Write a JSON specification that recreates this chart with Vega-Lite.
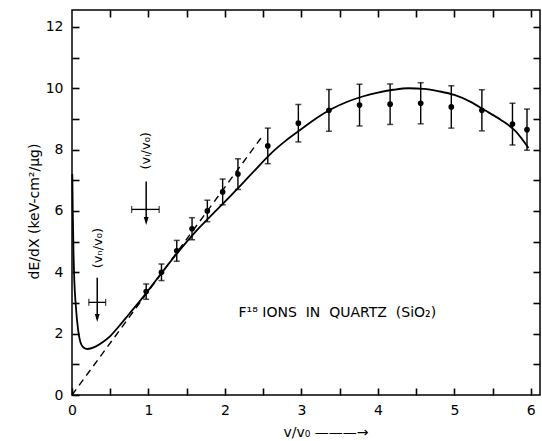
{
  "$schema": "https://vega.github.io/schema/vega-lite/v6.json",
  "width": 468,
  "height": 385,
  "autosize": {"type": "none"},
  "padding": {"left": 72, "top": 10, "right": 2, "bottom": 46},
  "background": "white",
  "config": {
    "view": {"stroke": "black", "strokeWidth": 1.5},
    "font": "DejaVu Sans",
    "axis": {
      "grid": false,
      "domain": false,
      "ticks": true,
      "tickColor": "black",
      "tickOpacity": 1,
      "tickWidth": 1.6,
      "tickSize": 7,
      "offset": -7,
      "zindex": 2,
      "labelFlush": false,
      "labelOverlap": false,
      "labelColor": "black",
      "titleColor": "black",
      "labelFont": "DejaVu Sans",
      "titleFont": "DejaVu Sans",
      "labelFontSize": 14,
      "titleFontSize": 14,
      "titleFontWeight": "normal"
    }
  },
  "datasets": {
    "curve": [
      {"x": 0.004, "y": 7.2}, {"x": 0.01, "y": 6.0}, {"x": 0.02, "y": 4.6}, {"x": 0.03, "y": 3.75},
      {"x": 0.05, "y": 2.9}, {"x": 0.08, "y": 2.12}, {"x": 0.11, "y": 1.72}, {"x": 0.15, "y": 1.55},
      {"x": 0.2, "y": 1.5}, {"x": 0.3, "y": 1.57}, {"x": 0.4, "y": 1.72}, {"x": 0.5, "y": 1.92},
      {"x": 0.6, "y": 2.2}, {"x": 0.75, "y": 2.65}, {"x": 0.9, "y": 3.1}, {"x": 1.0, "y": 3.42},
      {"x": 1.2, "y": 4.07}, {"x": 1.4, "y": 4.7}, {"x": 1.6, "y": 5.28}, {"x": 1.8, "y": 5.8},
      {"x": 2.0, "y": 6.3}, {"x": 2.2, "y": 6.82}, {"x": 2.4, "y": 7.35}, {"x": 2.6, "y": 7.87},
      {"x": 2.8, "y": 8.3}, {"x": 3.0, "y": 8.67}, {"x": 3.2, "y": 9.03}, {"x": 3.4, "y": 9.33},
      {"x": 3.6, "y": 9.56}, {"x": 3.8, "y": 9.73}, {"x": 4.0, "y": 9.86}, {"x": 4.2, "y": 9.95},
      {"x": 4.4, "y": 10.0}, {"x": 4.6, "y": 9.98}, {"x": 4.8, "y": 9.9}, {"x": 5.0, "y": 9.78},
      {"x": 5.2, "y": 9.57}, {"x": 5.4, "y": 9.28}, {"x": 5.6, "y": 8.98}, {"x": 5.8, "y": 8.6},
      {"x": 5.97, "y": 8.05}
    ],
    "dashed": [{"x": 0, "y": 0}, {"x": 2.47, "y": 8.37}],
    "points": [
      {"x": 0.97, "y": 3.37, "lo": 3.12, "hi": 3.62},
      {"x": 1.17, "y": 4.0, "lo": 3.73, "hi": 4.27},
      {"x": 1.37, "y": 4.7, "lo": 4.36, "hi": 5.04},
      {"x": 1.57, "y": 5.42, "lo": 5.06, "hi": 5.78},
      {"x": 1.77, "y": 6.0, "lo": 5.65, "hi": 6.35},
      {"x": 1.97, "y": 6.62, "lo": 6.2, "hi": 7.04},
      {"x": 2.17, "y": 7.2, "lo": 6.7, "hi": 7.7},
      {"x": 2.56, "y": 8.12, "lo": 7.54, "hi": 8.7},
      {"x": 2.96, "y": 8.86, "lo": 8.25, "hi": 9.47},
      {"x": 3.36, "y": 9.28, "lo": 8.6, "hi": 9.96},
      {"x": 3.76, "y": 9.45, "lo": 8.77, "hi": 10.13},
      {"x": 4.16, "y": 9.48, "lo": 8.82, "hi": 10.14},
      {"x": 4.56, "y": 9.51, "lo": 8.84, "hi": 10.18},
      {"x": 4.96, "y": 9.39, "lo": 8.7, "hi": 10.08},
      {"x": 5.36, "y": 9.28, "lo": 8.61, "hi": 9.95},
      {"x": 5.76, "y": 8.83, "lo": 8.15, "hi": 9.51},
      {"x": 5.95, "y": 8.65, "lo": 7.98, "hi": 9.32}
    ],
    "arrows": [
      {"x": 0.33, "y": 3.82, "y2": 2.5},
      {"x": 0.97, "y": 6.96, "y2": 5.65}
    ],
    "heads": [
      {"x": 0.33, "y": 2.51},
      {"x": 0.97, "y": 5.67}
    ],
    "hbars": [
      {"x": 0.22, "x2": 0.44, "y": 3.02},
      {"x": 0.78, "x2": 1.14, "y": 6.05}
    ],
    "hcaps": [
      {"x": 0.22, "y": 3.02}, {"x": 0.44, "y": 3.02},
      {"x": 0.78, "y": 6.05}, {"x": 1.14, "y": 6.05}
    ],
    "vlabels": [
      {"x": 0.34, "y": 4.79, "text": "(vₙ/v₀)"},
      {"x": 0.97, "y": 7.96, "text": "(vᵢ/v₀)"}
    ],
    "hlabels": [
      {"x": 3.47, "y": 2.68, "text": "F¹⁸ IONS \u00a0IN \u00a0QUARTZ \u00a0(SiO₂)"}
    ]
  },
  "resolve": {"axis": {"x": "independent", "y": "independent"}},
  "encoding": {
    "x": {"field": "x", "type": "quantitative", "scale": {"domain": [0, 6.12], "nice": false, "zero": false}, "axis": null},
    "y": {"field": "y", "type": "quantitative", "scale": {"domain": [0, 12.55], "nice": false, "zero": false}, "axis": null}
  },
  "layer": [
    {
      "data": {"name": "curve"},
      "mark": {"type": "line", "color": "black", "strokeWidth": 1.8, "interpolate": "monotone"},
      "encoding": {
        "x": {
          "field": "x", "type": "quantitative",
          "scale": {"domain": [0, 6.12], "nice": false, "zero": false},
          "axis": {
            "orient": "bottom",
            "values": [0, 0.5, 1, 1.5, 2, 2.5, 3, 3.5, 4, 4.5, 5, 5.5, 6],
            "labelPadding": 8,
            "labelExpr": "datum.value % 1 === 0 ? format(datum.value, 'd') : ''",
            "title": "v/v₀ ———→",
            "titleX": 211,
            "titleY": 44,
            "titleAlign": "left",
            "titleBaseline": "middle"
          }
        },
        "y": {
          "field": "y", "type": "quantitative",
          "scale": {"domain": [0, 12.55], "nice": false, "zero": false},
          "axis": {
            "orient": "left",
            "values": [0, 1, 2, 3, 4, 5, 6, 7, 8, 9, 10, 11, 12],
            "labelPadding": 9,
            "labelExpr": "datum.value % 2 === 0 ? format(datum.value, 'd') : ''",
            "title": "dE/dX  (keV-cm²/μg)",
            "titleAngle": 270,
            "titleX": -45,
            "titleY": 201,
            "titleAlign": "center",
            "titleBaseline": "middle"
          }
        }
      }
    },
    {
      "data": {"name": "dashed"},
      "mark": {"type": "line", "color": "black", "strokeWidth": 1.4, "strokeDash": [7, 5]},
      "encoding": {
        "x": {
          "field": "x", "type": "quantitative",
          "scale": {"domain": [0, 6.12], "nice": false, "zero": false},
          "axis": {
            "orient": "top",
            "values": [0.5, 1, 1.5, 2, 2.5, 3, 3.5, 4, 4.5, 5, 5.5, 6],
            "labels": false,
            "title": null
          }
        },
        "y": {
          "field": "y", "type": "quantitative",
          "scale": {"domain": [0, 12.55], "nice": false, "zero": false},
          "axis": {
            "orient": "right",
            "values": [1, 2, 3, 4, 5, 6, 7, 8, 9, 10, 11, 12],
            "labels": false,
            "title": null
          }
        }
      }
    },
    {
      "data": {"name": "points"},
      "mark": {"type": "rule", "color": "black", "strokeWidth": 1.4},
      "encoding": {
        "y": {"field": "lo", "type": "quantitative", "scale": {"domain": [0, 12.55], "nice": false, "zero": false}, "axis": null},
        "y2": {"field": "hi"}
      }
    },
    {
      "data": {"name": "points"},
      "mark": {"type": "tick", "orient": "horizontal", "color": "black", "size": 6, "thickness": 1.5},
      "encoding": {
        "y": {"field": "lo", "type": "quantitative", "scale": {"domain": [0, 12.55], "nice": false, "zero": false}, "axis": null}
      }
    },
    {
      "data": {"name": "points"},
      "mark": {"type": "tick", "orient": "horizontal", "color": "black", "size": 6, "thickness": 1.5},
      "encoding": {
        "y": {"field": "hi", "type": "quantitative", "scale": {"domain": [0, 12.55], "nice": false, "zero": false}, "axis": null}
      }
    },
    {
      "data": {"name": "points"},
      "mark": {"type": "point", "shape": "circle", "filled": true, "color": "black", "size": 32, "opacity": 1}
    },
    {
      "data": {"name": "arrows"},
      "mark": {"type": "rule", "color": "black", "strokeWidth": 1.5},
      "encoding": {"y2": {"field": "y2"}}
    },
    {
      "data": {"name": "heads"},
      "mark": {"type": "point", "shape": "M-0.6,-1L0.6,-1L0,1Z", "filled": true, "color": "black", "size": 64, "opacity": 1}
    },
    {
      "data": {"name": "hbars"},
      "mark": {"type": "rule", "color": "black", "strokeWidth": 1.3},
      "encoding": {"x2": {"field": "x2"}}
    },
    {
      "data": {"name": "hcaps"},
      "mark": {"type": "tick", "orient": "vertical", "color": "black", "size": 7, "thickness": 1.3}
    },
    {
      "data": {"name": "vlabels"},
      "mark": {"type": "text", "angle": 270, "font": "DejaVu Sans", "fontSize": 13, "color": "black", "align": "center", "baseline": "middle"},
      "encoding": {"text": {"field": "text"}}
    },
    {
      "data": {"name": "hlabels"},
      "mark": {"type": "text", "font": "DejaVu Sans", "fontSize": 14, "color": "black", "align": "center", "baseline": "middle"},
      "encoding": {"text": {"field": "text"}}
    }
  ]
}
